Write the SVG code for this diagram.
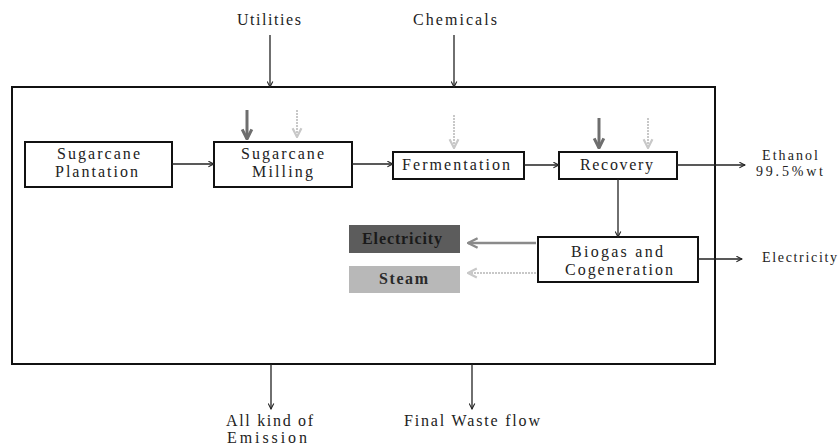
<svg xmlns="http://www.w3.org/2000/svg" width="838" height="445" viewBox="0 0 838 445">
<style>
text{font-family:'Liberation Serif','DejaVu Serif','Times New Roman',serif;font-size:16px;fill:#222;}
.sm{font-size:14px;}
.box{fill:#fff;stroke:#111;stroke-width:2;}
.ln{stroke:#222;stroke-width:1.3;fill:none;marker-end:url(#ah);}
.frame{fill:none;stroke:#111;stroke-width:2;}
.dk{stroke:#6e6e6e;stroke-width:3;fill:none;marker-end:url(#dh);}
.lt{stroke:#c8c8c8;stroke-width:2;stroke-dasharray:2 1;fill:none;marker-end:url(#lh);}
</style>
<defs>
<marker id="ah" viewBox="0 0 10 10" refX="9" refY="5" markerWidth="7" markerHeight="7" markerUnits="userSpaceOnUse" orient="auto"><path d="M1,1 L9,5 L1,9" fill="none" stroke="#222" stroke-width="1.5"/></marker>
<marker id="dh" viewBox="0 0 10 10" refX="9" refY="5" markerWidth="12" markerHeight="14" markerUnits="userSpaceOnUse" orient="auto"><path d="M1,1 L9,5 L1,9" fill="none" stroke="#6e6e6e" stroke-width="2.5"/></marker>
<marker id="lh" viewBox="0 0 10 10" refX="9" refY="5" markerWidth="11" markerHeight="12" markerUnits="userSpaceOnUse" orient="auto"><path d="M1,1 L9,5 L1,9" fill="none" stroke="#c8c8c8" stroke-width="2"/></marker>
<marker id="gh" viewBox="0 0 10 10" refX="9" refY="5" markerWidth="12" markerHeight="12" markerUnits="userSpaceOnUse" orient="auto"><path d="M1,1 L9,5 L1,9" fill="none" stroke="#8a8a8a" stroke-width="2"/></marker>
</defs>
<rect width="838" height="445" fill="#fff"/>
<g id="system-boundary"><rect class="frame" x="12" y="87" width="703" height="277"/></g>
<g id="plantation"><rect class="box" x="25" y="142" width="147" height="45"/>
<text x="57" y="159" textLength="83" lengthAdjust="spacing">Sugarcane</text>
<text x="55" y="177" textLength="83" lengthAdjust="spacing">Plantation</text></g>
<g id="milling"><rect class="box" x="214" y="142" width="138" height="45"/>
<text x="241" y="159" textLength="83" lengthAdjust="spacing">Sugarcane</text>
<text x="252" y="177" textLength="61" lengthAdjust="spacing">Milling</text></g>
<g id="fermentation"><rect class="box" x="393" y="152" width="131" height="27"/>
<text x="402" y="170" textLength="108" lengthAdjust="spacing">Fermentation</text></g>
<g id="recovery"><rect class="box" x="559" y="152" width="118" height="27"/>
<text x="580" y="170" textLength="73" lengthAdjust="spacing">Recovery</text></g>
<g id="biogas"><rect class="box" x="538" y="237" width="160" height="45"/>
<text x="571" y="257" textLength="92" lengthAdjust="spacing">Biogas and</text>
<text x="565" y="275" textLength="108" lengthAdjust="spacing">Cogeneration</text></g>
<g id="electricity-internal"><rect x="349" y="225" width="111" height="28" fill="#5c5c5c"/>
<text x="362" y="244" textLength="80" lengthAdjust="spacing" style="fill:#1a1a1a;font-weight:bold">Electricity</text></g>
<g id="steam"><rect x="349" y="266" width="111" height="27" fill="#b8b8b8"/>
<text x="379" y="284" textLength="49" lengthAdjust="spacing" style="fill:#2a2a2a;font-weight:bold">Steam</text></g>
<g id="utilities"><text x="237" y="25" textLength="64" lengthAdjust="spacing">Utilities</text></g>
<g id="chemicals"><text x="413" y="25" textLength="84" lengthAdjust="spacing">Chemicals</text></g>
<g id="ethanol"><text class="sm" x="762" y="160" textLength="56" lengthAdjust="spacing">Ethanol</text>
<text class="sm" x="756" y="176" textLength="67" lengthAdjust="spacing">99.5%wt</text></g>
<g id="electricity-out"><text class="sm" x="762" y="262" textLength="75" lengthAdjust="spacing">Electricity</text></g>
<g id="emission"><text x="226" y="426" textLength="87" lengthAdjust="spacing">All kind of</text>
<text x="227" y="443" textLength="80" lengthAdjust="spacing">Emission</text></g>
<g id="waste"><text x="404" y="426" textLength="136" lengthAdjust="spacing">Final Waste flow</text></g>
<g id="connectors">
<line class="ln" x1="270" y1="35" x2="270" y2="87"/>
<line class="ln" x1="454" y1="35" x2="454" y2="87"/>
<line class="ln" x1="172" y1="164" x2="214" y2="164"/>
<line class="ln" x1="352" y1="164" x2="393" y2="164"/>
<line class="ln" x1="524" y1="165" x2="559" y2="165"/>
<line class="ln" x1="677" y1="165" x2="745" y2="165"/>
<line class="ln" x1="618" y1="179" x2="618" y2="237"/>
<line class="ln" x1="698" y1="259" x2="742" y2="259"/>
<line class="ln" x1="271" y1="364" x2="271" y2="409"/>
<line class="ln" x1="472" y1="364" x2="472" y2="409"/>
<line class="dk" x1="247" y1="110" x2="247" y2="139"/>
<line class="lt" x1="297" y1="110" x2="297" y2="137"/>
<line class="lt" x1="454" y1="115" x2="454" y2="148"/>
<line class="dk" x1="599" y1="118" x2="599" y2="148"/>
<line class="lt" x1="648" y1="118" x2="648" y2="148"/>
<line x1="536" y1="243" x2="468" y2="243" stroke="#8a8a8a" stroke-width="2.5" marker-end="url(#gh)"/>
<line class="lt" x1="536" y1="273" x2="468" y2="273"/>
</g>
</svg>
